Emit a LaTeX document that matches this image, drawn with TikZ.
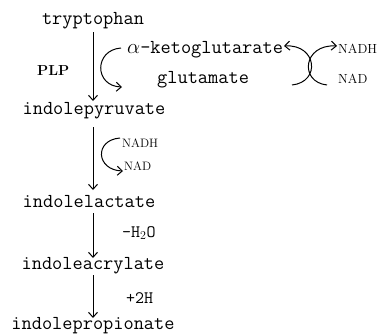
\documentclass[tikz,border=0pt]{standalone}
\usetikzlibrary{arrows.meta}
\begin{document}
\begin{tikzpicture}[x=1pt,y=-1pt,
  cmp/.style={font=\fontsize{19.8}{20}\selectfont\ttfamily,inner sep=0pt,anchor=base},
  cof/.style={font=\fontsize{13.2}{14}\selectfont,inner sep=0pt,anchor=base west},
  lbl/.style={font=\fontsize{17.5}{18}\selectfont\ttfamily,inner sep=0pt,anchor=base west},
  rx/.style={line width=1pt,-{Straight Barb[length=5pt,width=9pt]}}]
\useasboundingbox (0,0) rectangle (379,335);
% compounds
\node[cmp] (trp) at (93,24) {tryptophan};
\node[cmp] (ipy) at (94,114) {indolepyruvate};
\node[cmp] (ila) at (89,207) {indolelactate};
\node[cmp] (iac) at (93,269) {indoleacrylate};
\node[cmp] (ipr) at (93,329) {indolepropionate};
% side labels
\node[font=\fontsize{14.5}{15}\selectfont\bfseries,inner sep=0pt,anchor=base west] (plp) at (37,75) {PLP};
\node[cmp,anchor=base west] (akg) at (127,53) {$\alpha$-ketoglutarate};
\node[cmp,anchor=base west] (glu) at (157,83) {glutamate};
\node[cof] (nadh1) at (338,53) {NADH};
\node[cof] (nad1) at (338,83) {NAD};
\node[cof,font=\fontsize{12.2}{13}\selectfont] (nadh2) at (122,147) {NADH};
\node[cof,font=\fontsize{12.2}{13}\selectfont] (nad2) at (124,170) {NAD};
\node[lbl] (h2o) at (122,237) {-H$_2$O};
\node[lbl] (h2) at (126,303) {+2H};
% connector anchors
\coordinate (a1s) at (93,32);  \coordinate (a1e) at (93,101);
\coordinate (a2s) at (93,127); \coordinate (a2e) at (93,190);
\coordinate (a3s) at (93,213); \coordinate (a3e) at (93,258);
\coordinate (a4s) at (93,275); \coordinate (a4e) at (93,318);
\draw[rx] (a1s) -- (a1e);
\draw[rx] (a2s) -- (a2e);
\draw[rx] (a3s) -- (a3e);
\draw[rx] (a4s) -- (a4e);
% side curves
\coordinate (c1s) at (121,48); \coordinate (c1e) at (122,87);
\draw[rx] (c1s) .. controls (94,50) and (94,86) .. (c1e);
\coordinate (c2s) at (120,138); \coordinate (c2e) at (123,171);
\draw[rx] (c2s) .. controls (94,140) and (96,170) .. (c2e);
% crossing arcs
\coordinate (x1s) at (292,85); \coordinate (x1e) at (284,46);
\coordinate (x2s) at (327,85); \coordinate (x2e) at (337,46);
\draw[rx] (x1s) .. controls (321,82) and (317,44) .. (x1e);
\draw[rx] (x2s) .. controls (299,82) and (303,44) .. (x2e);
\end{tikzpicture}
\end{document}
